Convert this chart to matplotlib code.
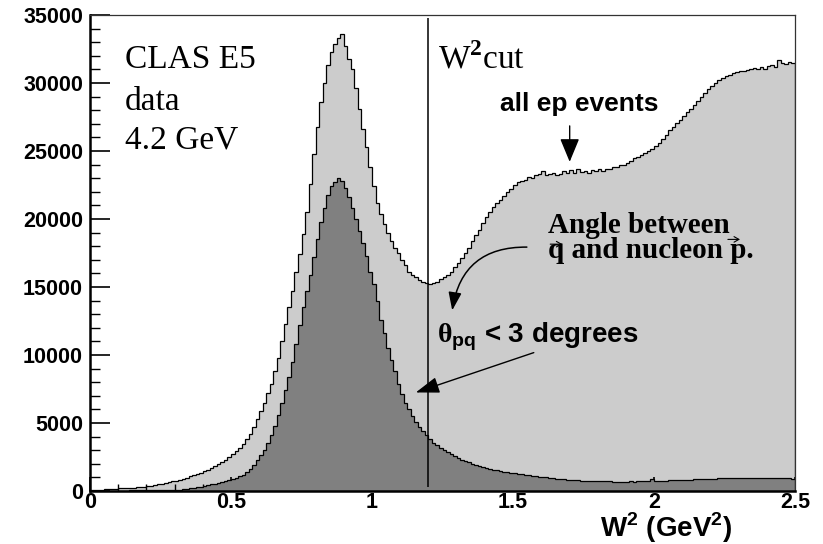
import numpy as np
import matplotlib
matplotlib.use("Agg")
import matplotlib.pyplot as plt

# W^2 histogram, 200 bins from 0 to 2.5 GeV^2
w2_lo, w2_hi, n_bins = 0.0, 2.5, 200

# all ep events (counts per bin), 10 bins per row
all_ep = [
    70, 80, 95, 105, 120, 130, 150, 170, 190, 205,
    220, 235, 255, 275, 300, 330, 370, 400, 440, 480,
    520, 570, 630, 700, 760, 830, 900, 990, 1080, 1170,
    1250, 1330, 1440, 1540, 1660, 1820, 1960, 2120, 2300, 2500,
    2700, 2920, 3150, 3450, 3800, 4200, 4700, 5300, 5900, 6500,
    7200, 7900, 8800, 9800, 11000, 12300, 13500, 14700, 16100, 17400,
    18900, 20500, 22600, 24800, 26800, 28600, 30000, 31300, 32300, 32900,
    33300, 33600, 32700, 31800, 31000, 29600, 28100, 26600, 25300, 23800,
    22400, 21200, 20400, 19600, 19000, 18400, 17900, 17500, 17000, 16600,
    16100, 15900, 15700, 15500, 15400, 15300, 15200, 15300, 15400, 15600,
    15700, 15850, 16100, 16500, 16800, 17100, 17500, 17900, 18400, 18800,
    19200, 19700, 20150, 20500, 20900, 21200, 21400, 21700, 21950, 22200,
    22500, 22700, 22800, 22900, 23100, 23050, 23250, 23300, 23550, 23200,
    23300, 23350, 23250, 23300, 23500, 23350, 23600, 23400, 23650, 23450,
    23500, 23400, 23600, 23500, 23650, 23550, 23700, 23650, 23800, 23850,
    23950, 24000, 24150, 24300, 24450, 24550, 24700, 24850, 25000, 25150,
    25350, 25600, 25900, 26200, 26550, 26800, 27050, 27300, 27600, 27900,
    28100, 28400, 28700, 29000, 29250, 29550, 29750, 30000, 30200, 30350,
    30500, 30600, 30700, 30800, 30900, 30850, 30950, 31000, 31100, 31050,
    31150, 31000, 31250, 31350, 31200, 31700, 31500, 31400, 31550, 31450,
]

# events with theta_pq < 3 degrees
theta_cut = [
    15, 18, 20, 22, 24, 26, 28, 30, 32, 34,
    36, 38, 40, 42, 44, 46, 48, 50, 53, 56,
    55, 60, 65, 75, 90, 110, 135, 165, 200, 240,
    285, 330, 380, 430, 490, 550, 610, 670, 740, 810,
    890, 980, 1080, 1200, 1400, 1620, 1900, 2250, 2650, 3050,
    3500, 4100, 4800, 5600, 6500, 7400, 8400, 9500, 10800, 12200,
    13500, 14700, 15900, 17200, 18500, 19800, 20800, 21800, 22400, 22700,
    23000, 22800, 22300, 21600, 20800, 20000, 19100, 18200, 17300, 16100,
    15200, 14000, 12600, 11600, 10500, 9600, 8800, 7900, 7100, 6500,
    6000, 5500, 5100, 4700, 4400, 4100, 3800, 3550, 3350, 3150,
    3000, 2850, 2700, 2550, 2420, 2300, 2200, 2100, 2000, 1900,
    1820, 1750, 1690, 1630, 1570, 1520, 1470, 1420, 1380, 1340,
    1300, 1260, 1220, 1190, 1150, 1120, 1090, 1060, 1030, 1000,
    970, 940, 910, 880, 860, 840, 820, 800, 790, 770,
    760, 750, 740, 730, 720, 710, 700, 700, 690, 690,
    680, 690, 680, 700, 690, 710, 700, 720, 710, 900,
    740, 750, 760, 770, 780, 790, 800, 810, 820, 830,
    840, 850, 860, 870, 880, 890, 900, 910, 920, 930,
    940, 950, 960, 980, 970, 960, 950, 960, 950, 940,
    950, 930, 940, 950, 930, 920, 940, 930, 920, 910,
]

w2_cut = 1.2
xticks = [0, 0.5, 1, 1.5, 2, 2.5]
xticklabels = ["0", "0.5", "1", "1.5", "2", "2.5"]
yticks = [0, 5000, 10000, 15000, 20000, 25000, 30000, 35000]
yticklabels = ["0", "5000", "10000", "15000", "20000", "25000", "30000", "35000"]

plt.rcParams["font.family"] = ["Liberation Sans", "DejaVu Sans"]
plt.rcParams["font.weight"] = "bold"
plt.rcParams["mathtext.fontset"] = "custom"
plt.rcParams["mathtext.rm"] = "Liberation Serif"
plt.rcParams["mathtext.bf"] = "Liberation Sans:bold"

edges = np.linspace(w2_lo, w2_hi, n_bins + 1)

fig = plt.figure(figsize=(8.23, 5.44), dpi=100)
ax = fig.add_axes([90/823, 1 - 491/544, 705/823, 476/544])

ax.stairs(all_ep, edges, fill=True, color="#cccccc", zorder=1)
ax.stairs(all_ep, edges, color="black", lw=0.9, zorder=2)
ax.stairs(theta_cut, edges, fill=True, color="#808080", zorder=3)
ax.stairs(theta_cut, edges, color="black", lw=0.9, zorder=4)
ax.vlines(w2_cut, 300, 34800, color="black", lw=1.1, zorder=5)

ax.set_xlim(0, 2.5)
ax.set_ylim(0, 35000)
ax.set_xticks(xticks)
ax.set_xticklabels(xticklabels)
ax.set_yticks(yticks)
ax.set_yticklabels(yticklabels)
ax.set_xticks(np.arange(0, 2.51, 0.1), minor=True)
ax.set_yticks(np.arange(0, 35001, 1000), minor=True)
ax.tick_params(axis="y", which="major", direction="in", length=14.4, width=1.2,
               labelsize=15.5, pad=5, right=False)
ax.tick_params(axis="y", which="minor", direction="in", length=7.2, width=1.0, right=False)
ax.tick_params(axis="x", which="major", direction="in", length=10, width=1.2,
               labelsize=15.5, pad=1, top=False)
ax.tick_params(axis="x", which="minor", direction="in", length=5, width=1.0, top=False)
for s in ["left", "bottom"]:
    ax.spines[s].set_linewidth(1.8)
for s in ["top", "right"]:
    ax.spines[s].set_linewidth(0.9)
    ax.spines[s].set_color("#333333")
for s in ax.spines.values():
    s.set_zorder(6)

serif = dict(family="Liberation Serif", weight="normal", fontsize=24, va="baseline")
ax.text(0.124, 31090, "CLAS E5", **serif)
ax.text(0.124, 28000, "data", **serif)
ax.text(0.124, 25210, "4.2 GeV", **serif)
ax.text(1.233, 31090, r"W$^2$cut", **serif)

ax.text(1.453, 27930, "all ep events", fontsize=19, va="baseline")
ax.annotate("", xy=(1.701, 24000), xytext=(1.701, 27050),
            arrowprops=dict(arrowstyle="-|>,head_length=1.45,head_width=0.6",
                            color="black", lw=1.0))

tb = dict(family="Liberation Serif", weight="bold", fontsize=21, va="baseline")
ax.text(1.623, 18990, "Angle between", **tb)
ax.text(1.623, 17130, "q and nucleon p.", **tb)
# little vector arrows over q and p
vec = dict(arrowstyle="->,head_length=0.35,head_width=0.2", color="black", lw=0.8,
           shrinkA=0, shrinkB=0)
ax.annotate("", xy=(1.675, 18150), xytext=(1.632, 18150), arrowprops=vec)
ax.annotate("", xy=(2.305, 18500), xytext=(2.262, 18500), arrowprops=vec)
ax.annotate("", xy=(1.283, 13080), xytext=(1.559, 17930),
            arrowprops=dict(arrowstyle="-|>,head_length=1.1,head_width=0.4",
                            connectionstyle="arc3,rad=0.45", color="black", lw=1.1))

ax.text(1.230, 10950, r"$\mathrm{θ}_{\mathbf{pq}}$ < 3 degrees", fontsize=20, va="baseline")
ax.annotate("", xy=(1.146, 7180), xytext=(1.583, 10240),
            arrowprops=dict(arrowstyle="-|>,head_length=1.45,head_width=0.5",
                            color="black", lw=1.0))

fig.text(732/823, 1 - 537/544, r"W$^{\mathbf{2}}$ (GeV$^{\mathbf{2}}$)", fontsize=20,
         ha="right", va="baseline")

fig.savefig("out.png", dpi=100)
